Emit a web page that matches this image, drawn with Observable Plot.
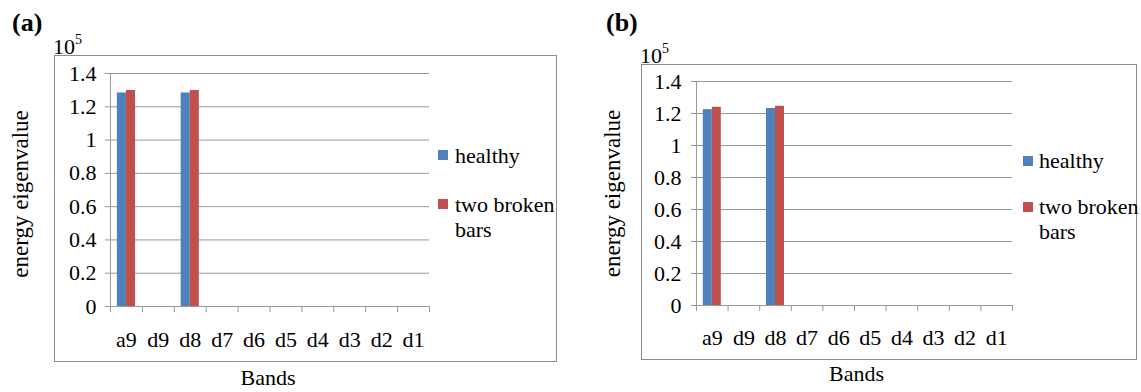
<!DOCTYPE html>
<html>
<head>
<meta charset="utf-8">
<script src="https://cdn.jsdelivr.net/npm/d3@7"></script>
<script src="https://cdn.jsdelivr.net/npm/@observablehq/plot@0.6"></script>
<style>
  html, body { margin: 0; padding: 0; background: #fff; font-family: "Liberation Serif", "DejaVu Serif", "Times New Roman", Times, serif; }
  #root { position: relative; width: 1141px; height: 392px; overflow: hidden;
          font-family: "Liberation Serif", "DejaVu Serif", "Times New Roman", Times, serif; color: #000; }
  .abs { position: absolute; line-height: 1; white-space: nowrap; }
  .box { position: absolute; border: 1px solid #8c8c8c; box-sizing: border-box; pointer-events: none; }
  .panel { font-weight: bold; font-size: 26px; }
  .unit { font-size: 22px; }
  .unit span { font-size: 14px; vertical-align: 10px; }
  .sw { position: absolute; width: 10px; height: 10px; }
  .lg { position: absolute; font-size: 22px; line-height: 25px; white-space: normal; }
  svg text { font-family: "Liberation Serif", "DejaVu Serif", "Times New Roman", Times, serif; }
</style>
</head>
<body>
<div id="root"></div>
<script>
// ---- data ----
const bands = ["a9", "d9", "d8", "d7", "d6", "d5", "d4", "d3", "d2", "d1"];
const seriesNames = ["healthy", "two broken bars"];
const healthyA = [1.283, 0, 1.283, 0, 0, 0, 0, 0, 0, 0];
const brokenA  = [1.298, 0, 1.298, 0, 0, 0, 0, 0, 0, 0];
const healthyB = [1.224, 0, 1.231, 0, 0, 0, 0, 0, 0, 0];
const brokenB  = [1.239, 0, 1.245, 0, 0, 0, 0, 0, 0, 0];
const yTicks = [0, 0.2, 0.4, 0.6, 0.8, 1, 1.2, 1.4];
const panelLabels = ["(a)", "(b)"];
const yLabel = "energy eigenvalue";
const xLabel = "Bands";
const unitBase = "10", unitExp = "5";
const colors = ["#4F81BD", "#C0504D"];

const FONT = '"Liberation Serif", "DejaVu Serif", "Times New Roman", Times, serif';
const GRID = "#9a9a9a";

function chart(cfg) {
  const rows = bands.flatMap((b, i) => [
    {band: b, series: seriesNames[0], value: cfg.healthy[i]},
    {band: b, series: seriesNames[1], value: cfg.broken[i]}
  ]);
  const step = (cfg.width - cfg.ml - cfg.mr) / bands.length;
  const barW = 0.285 * step;
  const outer = (step - 2 * barW) / 2;
  return Plot.plot({
    width: cfg.width,
    height: 392,
    marginLeft: cfg.ml, marginRight: cfg.mr, marginTop: cfg.mt, marginBottom: cfg.mb,
    style: {fontFamily: FONT, fontSize: "22px", color: "#000", background: "transparent", overflow: "visible"},
    x: {type: "band", domain: bands, paddingInner: 0, paddingOuter: 0, round: false},
    y: {domain: [0, 1.4]},
    color: {domain: seriesNames, range: colors},
    marks: [
      Plot.ruleY(yTicks, {stroke: GRID}),
      Plot.frame({anchor: "left", stroke: GRID}),
      Plot.ruleX(bands, {x: d => d, y1: 0, y2: 0, insetBottom: -6, dx: -step / 2, stroke: GRID}),
      Plot.ruleX(bands.slice(-1), {x: d => d, y1: 0, y2: 0, insetBottom: -6, dx: step / 2, stroke: GRID}),
      Plot.barY(rows.filter(d => d.series === seriesNames[0]),
        {x: "band", y: "value", fill: "series", insetLeft: outer, insetRight: step / 2}),
      Plot.barY(rows.filter(d => d.series === seriesNames[1]),
        {x: "band", y: "value", fill: "series", insetLeft: step / 2, insetRight: outer}),
      Plot.axisY({ticks: yTicks, tickSize: 5, tickPadding: cfg.tickPadY, tickFormat: d3.format("~g"),
        stroke: GRID, fill: "#000", fontSize: 22, label: null}),
      Plot.axisX({tickSize: 0, tickPadding: cfg.tickPadX, fontSize: 22, fill: "#000", label: null}),
      Plot.text([yLabel], {text: d => d, frameAnchor: "left", textAnchor: "middle", lineAnchor: "middle",
        rotate: -90, dx: cfg.yLabelDx, dy: cfg.yLabelDy, fontSize: 23, fill: "#000"}),
      Plot.text([xLabel], {text: d => d, frameAnchor: "bottom", textAnchor: "middle", lineAnchor: "middle",
        dx: cfg.xLabelDx, dy: cfg.xLabelDy, fontSize: 22, fill: "#000"})
    ]
  });
}

const root = document.getElementById("root");

const panels = [
  {left: 0, width: 560, ml: 110, mr: 131, mt: 73, mb: 86, healthy: healthyA, broken: brokenA,
   tickPadY: 9, tickPadX: 25, yLabelDx: -90, yLabelDy: 4, xLabelDx: -2, xLabelDy: 71,
   box: [54, 55, 503, 307], label: [12, 9.5], unit: [53, 33],
   sw: [438, 150, 438, 199], lg: [455, 143, 455, 192]},
  {left: 560, width: 581, ml: 136, mr: 129, mt: 81, mb: 87, healthy: healthyB, broken: brokenB,
   tickPadY: 10, tickPadX: 24, yLabelDx: -84, yLabelDy: 0, xLabelDx: 2, xLabelDy: 68,
   box: [641, 64, 496, 296], label: [606, 9.5], unit: [640, 42],
   sw: [1023, 155.5, 1023, 201.5], lg: [1039, 147.5, 1039, 194]}
];

panels.forEach((p, k) => {
  const svg = chart(p);
  svg.style.position = "absolute";
  svg.style.left = p.left + "px";
  svg.style.top = "0px";
  root.appendChild(svg);

  const box = document.createElement("div");
  box.className = "box";
  Object.assign(box.style, {left: p.box[0] + "px", top: p.box[1] + "px", width: p.box[2] + "px", height: p.box[3] + "px"});
  root.appendChild(box);

  const lab = document.createElement("div");
  lab.className = "abs panel";
  lab.textContent = panelLabels[k];
  Object.assign(lab.style, {left: p.label[0] + "px", top: p.label[1] + "px"});
  root.appendChild(lab);

  const unit = document.createElement("div");
  unit.className = "abs unit";
  unit.innerHTML = unitBase + "<span>" + unitExp + "</span>";
  Object.assign(unit.style, {left: p.unit[0] + "px", top: p.unit[1] + "px"});
  root.appendChild(unit);

  seriesNames.forEach((name, j) => {
    const sw = document.createElement("div");
    sw.className = "sw";
    Object.assign(sw.style, {left: p.sw[2 * j] + "px", top: p.sw[2 * j + 1] + "px", background: colors[j]});
    root.appendChild(sw);
    const t = document.createElement("div");
    t.className = "lg";
    t.textContent = name;
    Object.assign(t.style, {left: p.lg[2 * j] + "px", top: p.lg[2 * j + 1] + "px", width: "105px"});
    root.appendChild(t);
  });
});
</script>
</body>
</html>
